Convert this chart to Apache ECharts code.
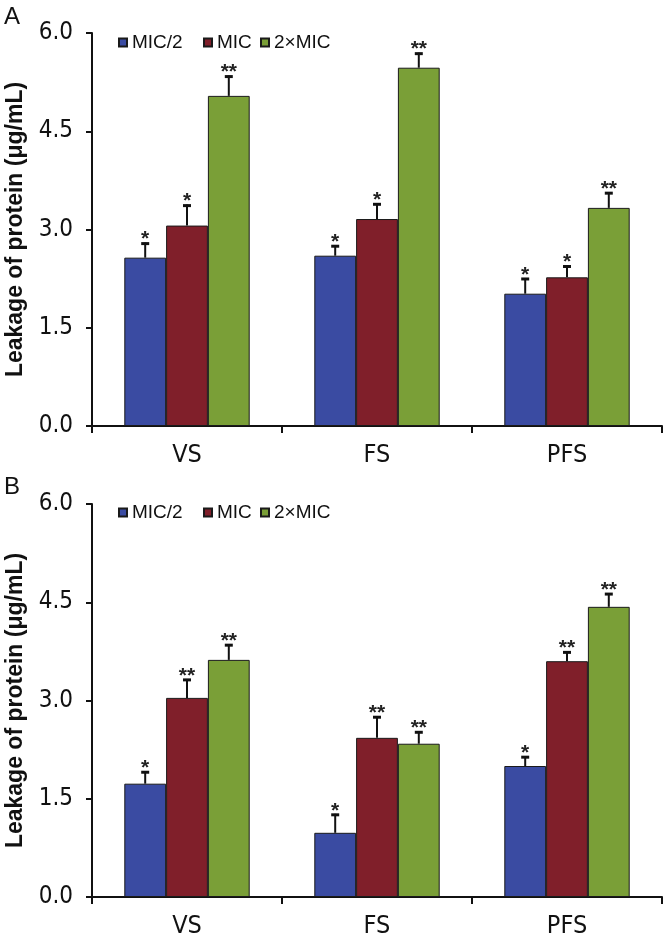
<!DOCTYPE html>
<html>
<head>
<meta charset="utf-8">
<script src="https://cdn.jsdelivr.net/npm/echarts@6/dist/echarts.min.js"></script>
<style>
html,body{margin:0;padding:0;background:#fff;}
#chart{width:669px;height:945px;}
</style>
</head>
<body>
<div id="chart"></div>
<script>
// ---------- data ----------
const categories = ['VS', 'FS', 'PFS'];
const seriesNames = ['MIC/2', 'MIC', '2×MIC'];
const yTicks = [0, 1.5, 3.0, 4.5, 6.0];

// Panel A
const aMic2 = [2.57, 2.60, 2.02];
const aMic2Err = [0.23, 0.16, 0.24];
const aMic2Sig = ['*', '*', '*'];
const aMic = [3.06, 3.16, 2.27];
const aMicErr = [0.32, 0.24, 0.18];
const aMicSig = ['*', '*', '*'];
const a2Mic = [5.04, 5.47, 3.33];
const a2MicErr = [0.31, 0.23, 0.24];
const a2MicSig = ['**', '**', '**'];

// Panel B
const bMic2 = [1.73, 0.98, 2.00];
const bMic2Err = [0.19, 0.29, 0.15];
const bMic2Sig = ['*', '*', '*'];
const bMic = [3.04, 2.43, 3.60];
const bMicErr = [0.29, 0.33, 0.15];
const bMicSig = ['**', '**', '**'];
const b2Mic = [3.62, 2.34, 4.43];
const b2MicErr = [0.24, 0.19, 0.21];
const b2MicSig = ['**', '**', '**'];

// ---------- style ----------
const FONT = "'Liberation Sans', Arial, sans-serif";
const NARROW = "'Liberation Sans Narrow', 'DejaVu Sans Condensed', 'Liberation Sans', sans-serif";
const colors = ['#3a4ba2', '#801f2a', '#7a9f37'];
const BAR_RATIO = 0.22;
const ink = '#111';

const panels = [
  {vals: [aMic2, aMic, a2Mic], errs: [aMic2Err, aMicErr, a2MicErr], sigs: [aMic2Sig, aMicSig, a2MicSig]},
  {vals: [bMic2, bMic, b2Mic], errs: [bMic2Err, bMicErr, b2MicErr], sigs: [bMic2Sig, bMicSig, b2MicSig]}
];

const grids = [
  {left: 92, top: 33, width: 570, height: 393, containLabel: false, outerBoundsMode: 'none'},
  {left: 92, top: 504, width: 570, height: 393, containLabel: false, outerBoundsMode: 'none'}
];

function makeXAxis(gi) {
  return {
    type: 'category', gridIndex: gi, data: categories,
    axisLine: {lineStyle: {color: ink, width: 2}},
    axisTick: {show: true, length: 7, lineStyle: {color: ink, width: 2}, alignWithLabel: false},
    axisLabel: {color: ink, fontSize: 25, fontFamily: NARROW, margin: 17},
    splitLine: {show: false}
  };
}
function makeYAxis(gi) {
  return {
    type: 'value', gridIndex: gi, min: 0, max: 6, interval: 1.5,
    name: 'Leakage of protein (μg/mL)', nameLocation: 'middle', nameGap: 65,
    nameTextStyle: {color: ink, fontSize: 23, fontWeight: 'bold', fontFamily: FONT},
    axisLine: {show: true, lineStyle: {color: ink, width: 2}},
    axisTick: {show: true, length: 6, lineStyle: {color: ink, width: 2}},
    axisLabel: {color: ink, fontSize: 24, fontFamily: NARROW, margin: 19,
      formatter: v => (yTicks.indexOf(v) >= 0 ? v.toFixed(1) : '')},
    splitLine: {show: false}
  };
}

const series = [];
panels.forEach((p, gi) => {
  p.vals.forEach((vals, k) => {
    series.push({
      type: 'bar', name: seriesNames[k], xAxisIndex: gi, yAxisIndex: gi,
      data: vals, barWidth: (BAR_RATIO * 100) + '%', barGap: '0%',
      itemStyle: {color: colors[k], borderColor: '#1a1a1a', borderWidth: 1},
      emphasis: {disabled: true}, z: 2
    });
  });
  p.vals.forEach((vals, k) => {
    const errs = p.errs[k], sigs = p.sigs[k];
    series.push({
      type: 'custom', xAxisIndex: gi, yAxisIndex: gi, z: 5, silent: true,
      data: vals.map((v, i) => [i, v, errs[i]]),
      renderItem: function (params, api) {
        const i = api.value(0), v = api.value(1), e = api.value(2);
        const base = api.coord([i, v]);
        const top = api.coord([i, v + e]);
        const bw = api.size([1, 0])[0] * BAR_RATIO;
        const x = base[0] + (k - 1) * bw;
        return {
          type: 'group',
          children: [
            {type: 'line', shape: {x1: x, y1: base[1], x2: x, y2: top[1]}, style: {stroke: ink, lineWidth: 2}},
            {type: 'line', shape: {x1: x - 4, y1: top[1] + 1, x2: x + 4, y2: top[1] + 1}, style: {stroke: ink, lineWidth: 3}},
            {type: 'text', style: {text: sigs[params.dataIndex], x: x, y: top[1] - 3,
              align: 'center', verticalAlign: 'middle', fill: '#222',
              font: 'bold 21px ' + FONT}}
          ]
        };
      }
    });
  });
});

const legendIconLefts = [118, 203, 260];
const legendTops = [33, 503];
const legends = [];
legendTops.forEach(t => {
  seriesNames.forEach((n, k) => {
    legends.push({
      data: [n], left: legendIconLefts[k], top: t, itemWidth: 8, itemHeight: 8,
      icon: 'rect', selectedMode: false, padding: 0, itemGap: 0,
      textStyle: {color: ink, fontSize: 19, fontFamily: FONT}
    });
  });
});

const chart = echarts.init(document.getElementById('chart'), null, {renderer: 'canvas'});
chart.setOption({
  animation: false,
  backgroundColor: '#fff',
  grid: grids,
  xAxis: [makeXAxis(0), makeXAxis(1)],
  yAxis: [makeYAxis(0), makeYAxis(1)],
  legend: legends,
  graphic: [
    {type: 'text', left: 4, top: 5, style: {text: 'A', font: '24px ' + FONT, fill: ink}},
    {type: 'text', left: 4, top: 475, style: {text: 'B', font: '24px ' + FONT, fill: ink}}
  ],
  series: series
});
</script>
</body>
</html>
